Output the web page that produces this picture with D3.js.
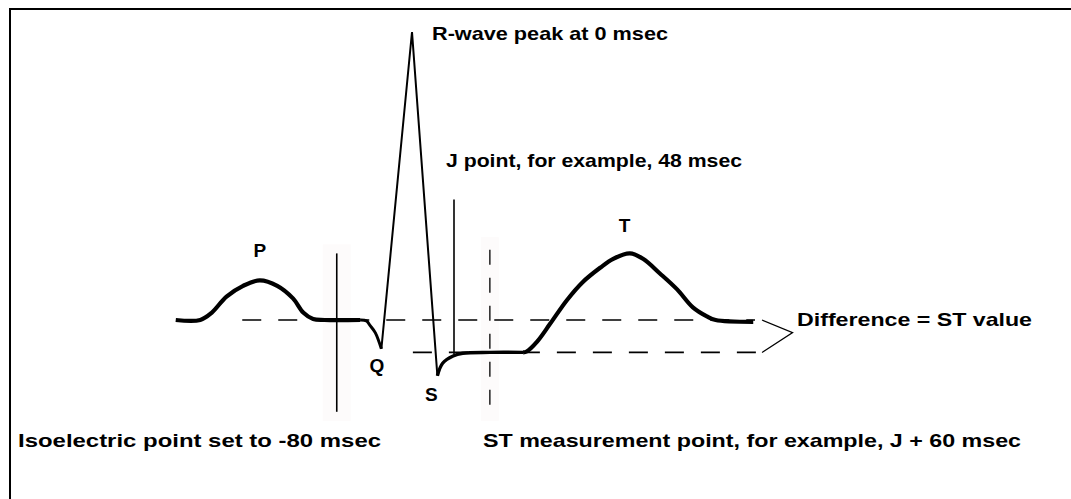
<!DOCTYPE html>
<html><head><meta charset="utf-8">
<script src="https://cdn.jsdelivr.net/npm/d3@7"></script>
<style>html,body{margin:0;padding:0;background:#fff;overflow:hidden}</style>
</head><body><svg id="c" width="1071" height="499"></svg>
<script>
// time in msec relative to R-wave peak, amplitude in mV
const pWave = [[-270,0],[-242,0],[-229,0.04],[-212,0.13],[-193,0.19],[-174,0.22],[-154,0.19],[-136,0.12],[-124,0.04],[-113,0.005],[-100,0],[-59,0]];
const qDip = [[-59,0],[-52,-0.005],[-48,-0.03],[-42,-0.07],[-35,-0.16]];
const qrs = [[-35,-0.16],[0,1.6],[29,-0.31]];
const stSegment = [[29,-0.31],[35,-0.24],[47,-0.2],[58,-0.185],[89,-0.18],[127,-0.18]];
const tWave = [[127,-0.18],[131,-0.175],[143,-0.12],[158,-0.02],[177,0.11],[195,0.21],[215,0.29],[230,0.34],[249,0.37],[264,0.34],[283,0.26],[303,0.17],[321,0.07],[337,0.02],[347,0.0],[390,-0.01]];

const isoTime = -86, jTime = 48, stTime = 89;
const isoLevel = 0, stLevel = -0.18;
const isoLineRange = [0.37, -0.51];
const jLineRange = [0.67, -0.19];
const stLineRange = [0.39, -0.52];
const isoDashRange = [-194, 392];
const stDashRange = [1, 395];
const bracket = [[400,0],[435,-0.07],[400,-0.18]];

const waveLabels = ["P","Q","S","T"];
const noteLabels = ["R-wave peak at 0 msec","J point, for example, 48 msec","Difference = ST value","Isoelectric point set to -80 msec","ST measurement point, for example, J + 60 msec"];

const svg = d3.select("#c");
const x = d3.scaleLinear().domain([0,100]).range([412,499.5]);
const y = d3.scaleLinear().domain([0,1]).range([320,140]);

// frame
svg.append("path").attr("d","M10,499V9H1071").attr("fill","none").attr("stroke","#000").attr("stroke-width",2);

// faint shading behind markers
svg.append("rect").attr("x",x(isoTime)-14).attr("y",y(0.42)).attr("width",28).attr("height",y(-0.56)-y(0.42)).attr("fill","#fdfbfb");
svg.append("rect").attr("x",x(stTime)-9).attr("y",y(0.46)).attr("width",18).attr("height",y(-0.56)-y(0.46)).attr("fill","#fdfbfb");

// dashed reference lines
const dash = "19,17";
svg.append("line").attr("x1",x(isoDashRange[0])).attr("x2",x(isoDashRange[1])).attr("y1",y(isoLevel)).attr("y2",y(isoLevel))
  .attr("stroke","#000").attr("stroke-width",1.6).attr("stroke-dasharray",dash);
svg.append("line").attr("x1",x(stDashRange[0])).attr("x2",x(stDashRange[1])).attr("y1",y(stLevel)).attr("y2",y(stLevel))
  .attr("stroke","#000").attr("stroke-width",1.6).attr("stroke-dasharray",dash);
svg.append("line").attr("x1",x(stTime)).attr("x2",x(stTime)).attr("y1",y(stLineRange[0])).attr("y2",y(stLineRange[1]))
  .attr("stroke","#000").attr("stroke-width",1.3).attr("stroke-dasharray","15,13");

// solid markers
svg.append("line").attr("x1",x(isoTime)).attr("x2",x(isoTime)).attr("y1",y(isoLineRange[0])).attr("y2",y(isoLineRange[1]))
  .attr("stroke","#000").attr("stroke-width",1.6);
svg.append("line").attr("x1",x(jTime)).attr("x2",x(jTime)).attr("y1",y(jLineRange[0])).attr("y2",y(jLineRange[1]))
  .attr("stroke","#000").attr("stroke-width",1.6);

// bracket
svg.append("path").attr("d",d3.line().x(d=>x(d[0])).y(d=>y(d[1]))(bracket)).attr("fill","none").attr("stroke","#000").attr("stroke-width",1.2);

// waveform
const smooth = d3.line().x(d=>x(d[0])).y(d=>y(d[1])).curve(d3.curveCatmullRom.alpha(0.5));
const straight = d3.line().x(d=>x(d[0])).y(d=>y(d[1]));
svg.append("path").attr("d",smooth(pWave)).attr("fill","none").attr("stroke","#000").attr("stroke-width",4.2).attr("stroke-linejoin","round");
svg.append("path").attr("d",smooth(qDip)).attr("fill","none").attr("stroke","#000").attr("stroke-width",3);
svg.append("path").attr("d",straight(qrs)).attr("fill","none").attr("stroke","#000").attr("stroke-width",2).attr("stroke-linejoin","miter");
svg.append("path").attr("d",smooth(stSegment)).attr("fill","none").attr("stroke","#000").attr("stroke-width",3.4);
svg.append("path").attr("d",smooth(tWave)).attr("fill","none").attr("stroke","#000").attr("stroke-width",4.2).attr("stroke-linejoin","round");

// labels
const font = "'Liberation Sans', Arial, sans-serif";
function label(text, px, py, len, anchor){
  const t = svg.append("text").attr("x",px).attr("y",py).text(text)
    .attr("font-family",font).attr("font-weight","bold").attr("font-size",19).attr("fill","#000")
    .attr("text-anchor",anchor||"start");
  if(len) t.attr("textLength",len).attr("lengthAdjust","spacingAndGlyphs");
}
label(waveLabels[0], x(-174), y(0.35), null, "middle");
label(waveLabels[1], x(-40), y(-0.29), null, "middle");
label(waveLabels[2], x(22), y(-0.45), null, "middle");
label(waveLabels[3], x(243), y(0.49), null, "middle");
label(noteLabels[0], 432, 40, 236);
label(noteLabels[1], 446, 167, 296);
label(noteLabels[2], 797, 326, 235);
label(noteLabels[3], 18, 447, 363);
label(noteLabels[4], 483, 447, 538);
</script></body></html>
